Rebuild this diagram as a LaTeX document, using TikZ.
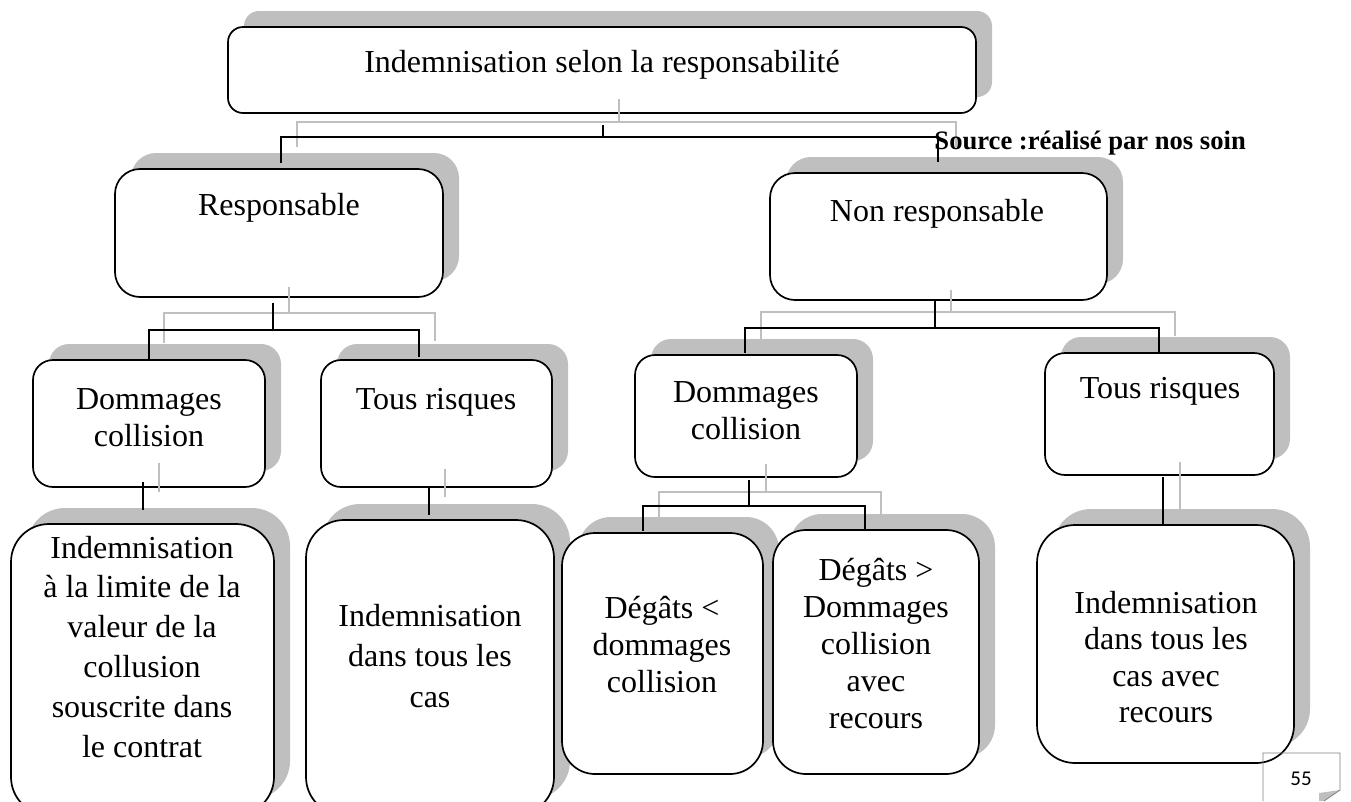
\documentclass[tikz,border=0pt]{standalone}
\usepackage{fontspec}
\setmainfont{Liberation Serif}
\newfontfamily\calib{Carlito}
\definecolor{shgray}{HTML}{BFBFBF}
\definecolor{framegray}{HTML}{7F7F7F}
\tikzset{
  boxc/.style={draw=black, line width=1.7pt, fill=white, inner sep=0pt, rectangle},
  blk/.style={line width=2pt, black},
  gry/.style={line width=1.5pt, shgray},
  txt/.style={font=\fontsize{32}{37}\selectfont, inner sep=0pt, anchor=base},
}
% shadow: x1 y1 x2 y2 radius
\newcommand\shbox[5]{\fill[shgray, rounded corners=#5pt] ({#1+16},{#2-16}) rectangle ({#3+16},{#4-16});}
% box node: name x1 y1 x2 y2 radius
\newcommand\mkbox[6]{\node[boxc, rounded corners=#6pt, minimum width={(#4-#2)*1pt}, minimum height={(#5-#3)*1pt}] (#1) at ({(#2+#4)/2},{(#3+#5)/2}) {};}
% text lines: name x y0 dy lines
\newcommand\tb[5]{\foreach \t [count=\i from 0] in {#5} {\node[txt] (#1-\i) at (#2,{#3+\i*#4}) {\t};}}
\begin{document}
\begin{tikzpicture}[x=1pt,y=-1pt]
\useasboundingbox (0,0) rectangle (1351,801);
% shadows
\shbox{228}{27}{976}{113}{15}
\shbox{115}{169}{443}{297}{25}
\shbox{770}{173}{1107}{300}{25}
\shbox{33}{360}{265}{487}{20}
\shbox{321}{360}{552}{487}{20}
\shbox{635}{355}{857}{477}{20}
\shbox{1045}{353}{1274}{475}{20}
\shbox{11}{524}{274}{815}{38}
\shbox{306}{520}{554}{815}{38}
\shbox{562}{533}{763}{774}{33}
\shbox{773}{530}{979}{774}{33}
\shbox{1037}{525}{1294}{763}{38}
% boxes
\mkbox{top}{228}{27}{976}{113}{15}
\mkbox{resp}{115}{169}{443}{297}{25}
\mkbox{nonr}{770}{173}{1107}{300}{25}
\mkbox{dcA}{33}{360}{265}{487}{20}
\mkbox{trA}{321}{360}{552}{487}{20}
\mkbox{dcB}{635}{355}{857}{477}{20}
\mkbox{trB}{1045}{353}{1274}{475}{20}
\mkbox{bA}{11}{524}{274}{815}{38}
\mkbox{bB}{306}{520}{554}{815}{38}
\mkbox{bC}{562}{533}{763}{774}{33}
\mkbox{bD}{773}{530}{979}{774}{33}
\mkbox{bE}{1037}{525}{1294}{763}{38}
% gray connectors (shadow copies)
\draw[gry] (619,99) -- (619,122);
\draw[gry] (297,147) -- (297,122) -- (956,122) -- (956,147);
\draw[gry] (289,287) -- (289,313);
\draw[gry] (164,343) -- (164,313) -- (435,313) -- (435,341);
\draw[gry] (951,290) -- (951,312);
\draw[gry] (761,339) -- (761,312) -- (1175,312) -- (1175,336);
\draw[gry] (159,463) -- (159,492);
\draw[gry] (445,469) -- (445,497);
\draw[gry] (766,464) -- (766,492);
\draw[gry] (659,517) -- (659,492) -- (881,492) -- (881,517);
\draw[gry] (1180,462) -- (1180,510);
% black connectors
\coordinate (j0) at (603,137);
\coordinate (j1) at (273,330);
\coordinate (j2) at (935,328);
\coordinate (j3) at (749,506);
\draw[blk] (603,125) -- (j0);
\draw[blk] (281,163) -- (281,137) -- (938,137) -- (938,162);
\draw[blk] (273,303) -- (j1);
\draw[blk] (149,360) -- (149,330) -- (419,330) -- (419,357);
\draw[blk] (dcA.south -| 143,0) ++(0,-6) -- (143,510);
\draw[blk] (935,300) -- (j2);
\draw[blk] (745,353) -- (745,328) -- (1159,328) -- (1159,352);
\draw[blk] (429,488) -- (429,515);
\draw[blk] (749,480) -- (j3);
\draw[blk] (643,531) -- (643,506) -- (865,506) -- (865,529);
\draw[blk] (1163,477) -- (1163,525);
% texts
\tb{ttop}{602}{72}{37}{Indemnisation selon la responsabilité}
\tb{tresp}{279}{215}{37}{Responsable}
\tb{tnonr}{937}{221}{37}{Non responsable}
\tb{tdcA}{149}{409}{37}{Dommages,collision}
\tb{ttrA}{436}{409}{37}{Tous risques}
\tb{tdcB}{746}{402}{37}{Dommages,collision}
\tb{ttrB}{1160}{398}{37}{Tous risques}
\tb{tbA}{142}{558}{39.8}{Indemnisation,à la limite de la,valeur de la,collusion,souscrite dans,le contrat}
\tb{tbB}{430}{626}{40.5}{Indemnisation,dans tous les,cas}
\tb{tbC}{662}{618}{37}{Dégâts <,dommages,collision}
\tb{tbD}{876}{580}{37}{Dégâts >,Dommages,collision,avec,recours}
\tb{tbE}{1166}{613}{36.5}{Indemnisation,dans tous les,cas avec,recours}
\node[font=\bfseries\fontsize{26.6}{31}\selectfont, inner sep=0pt, anchor=base east] (src) at (1246,149) {Source :réalisé par nos soin};
% page number tab
\fill[shgray] (1319,793) -- (1340,790) -- (1324,801) -- (1319,801) -- cycle;
\draw[framegray, line width=0.8pt] (1263,801) -- (1263,753) -- (1340,753) -- (1340,790) -- (1324,801);
\node[font=\calib\fontsize{21}{25}\selectfont, inner sep=0pt, anchor=base] (pg) at (1301,785) {55};
\end{tikzpicture}
\end{document}
